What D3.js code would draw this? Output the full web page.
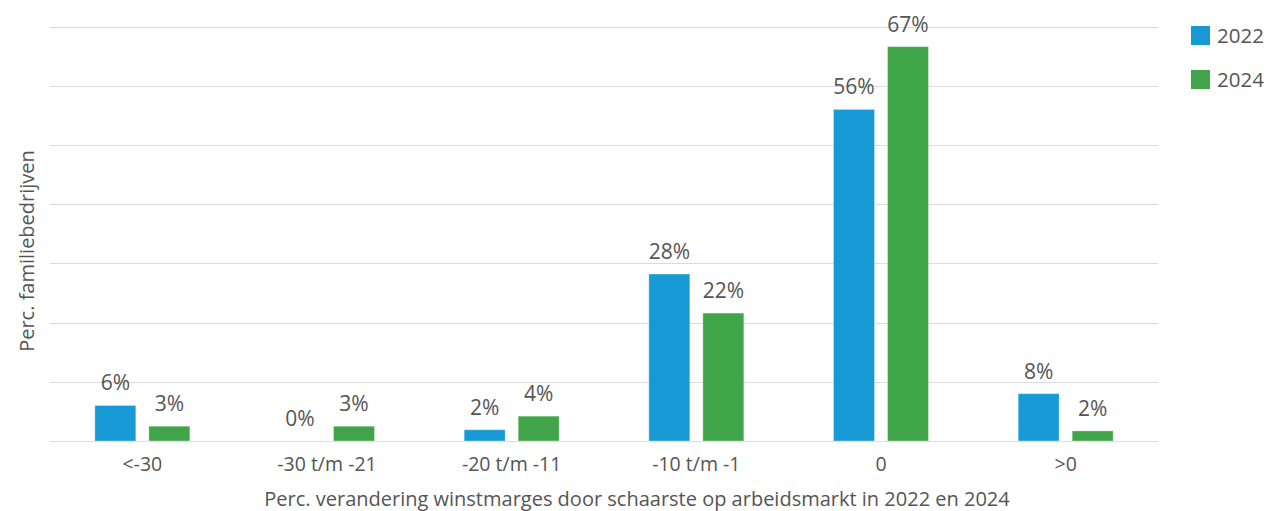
<!DOCTYPE html>
<html><head><meta charset="utf-8">
<script src="https://cdn.jsdelivr.net/npm/d3@7"></script>
<style>
body{margin:0;background:#fff;}
svg text{font-family:"Open Sans","Noto Sans",sans-serif;fill:#555;}
</style></head><body>
<svg id="c" width="1267" height="511"></svg>
<script>
const categories = ["<-30","-30 t/m -21","-20 t/m -11","-10 t/m -1","0",">0"];
const seriesNames = ["2022","2024"];
const values2022 = [6.0,0,1.9,28.2,56.0,8.0];
const values2024 = [2.5,2.5,4.2,21.6,66.6,1.7];
const yTicks = [0,10,20,30,40,50,60,70];
const colors = ["#1799d6","#40a449"];

const svg = d3.select("#c");
const m = {left:50,right:1158,top:26.5,bottom:441};
const x = d3.scaleBand().domain(categories).range([m.left,m.right]);
const y = d3.scaleLinear().domain([0,70]).range([m.bottom,m.top]);
const sub = d3.scaleBand().domain(seriesNames).range([0,x.bandwidth()]).paddingInner(0.241).paddingOuter(0.83);

svg.append("g").selectAll("line").data(yTicks).join("line")
  .attr("x1",m.left).attr("x2",m.right)
  .attr("y1",d=>Math.round(y(d))+0.5).attr("y2",d=>Math.round(y(d))+0.5)
  .attr("stroke","#dcdcdc").attr("stroke-width",1);

const series = [values2022, values2024];
series.forEach((vals,si)=>{
  const g = svg.append("g");
  g.selectAll("rect").data(vals).join("rect")
    .attr("x",(d,i)=>x(categories[i])+sub(seriesNames[si]))
    .attr("width",sub.bandwidth())
    .attr("y",d=>y(d))
    .attr("height",d=>y(0)-y(d))
    .attr("fill",colors[si])
    .attr("stroke","rgba(255,255,255,0.35)").attr("stroke-width",1);
  g.selectAll("text").data(vals).join("text")
    .attr("x",(d,i)=>x(categories[i])+sub(seriesNames[si])+sub.bandwidth()/2)
    .attr("y",d=>y(d)-15)
    .attr("text-anchor","middle")
    .attr("font-size",21)
    .text(d=>Math.round(d)+"%");
});

const xa = svg.append("g").attr("transform",`translate(0,${m.bottom})`)
  .call(d3.axisBottom(x).tickSize(0).tickPadding(16));
xa.select(".domain").remove();
xa.selectAll("text").attr("font-size",19.5).style("font-family","'Open Sans','Noto Sans',sans-serif").attr("fill","#555");

svg.append("text").attr("x",637).attr("y",506)
  .attr("text-anchor","middle").attr("font-size",20)
  .text("Perc. verandering winstmarges door schaarste op arbeidsmarkt in 2022 en 2024");
svg.append("text").attr("transform","translate(34,251) rotate(-90)")
  .attr("text-anchor","middle").attr("font-size",20)
  .text("Perc. familiebedrijven");

const lg = svg.append("g");
seriesNames.forEach((s,i)=>{
  lg.append("rect").attr("x",1191).attr("y",26+i*44).attr("width",19).attr("height",19).attr("fill",colors[i]);
  lg.append("text").attr("x",1217).attr("y",43+i*44).attr("font-size",20.5).text(s);
});
</script></body></html>
